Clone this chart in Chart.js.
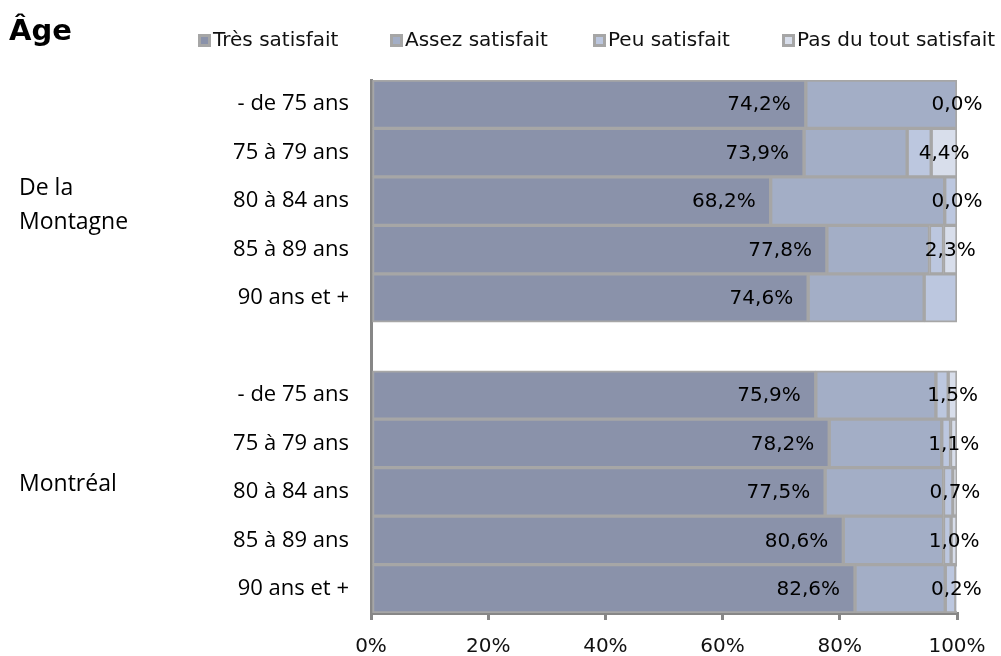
<!DOCTYPE html>
<html>
<head>
<meta charset="utf-8">
<script src="https://cdn.jsdelivr.net/npm/chart.js@4/dist/chart.umd.min.js"></script>
<style>
  html, body { margin: 0; padding: 0; background: #ffffff; }
  #wrap { width: 1001px; height: 656px; }
</style>
</head>
<body>
<div id="wrap"><canvas id="c" width="1001" height="656"></canvas></div>
<script>
// ---- Data ----
const categories = ['- de 75 ans', '75 à 79 ans', '80 à 84 ans', '85 à 89 ans', '90 ans et +', '',
                    '- de 75 ans', '75 à 79 ans', '80 à 84 ans', '85 à 89 ans', '90 ans et +'];
const seriesNames = ['Très satisfait', 'Assez satisfait', 'Peu satisfait', 'Pas du tout satisfait'];
const tres  = [74.2, 73.9, 68.2, 77.8, 74.6, null, 75.9, 78.2, 77.5, 80.6, 82.6];
const assez = [25.8, 17.6, 29.7, 17.5, 19.8, null, 20.5, 19.2, 20.2, 17.1, 15.4];
const peu   = [0.0, 4.1, 2.1, 2.4, 5.6, null, 2.1, 1.5, 1.6, 1.3, 1.8];
const pas   = [0.0, 4.4, 0.0, 2.3, null, null, 1.5, 1.1, 0.7, 1.0, 0.2];
const groupNames = [['De la', 'Montagne'], ['Montréal']];
const groupCenterIndex = [2, 8];
const xTickValues = [0, 20, 40, 60, 80, 100];
const chartTitle = 'Âge';

// ---- Styles ----
const colors = ['#8A92AA', '#A3AEC6', '#BCC7DF', '#D8DEEB'];
const borderGray = '#A6A6A6';
const axisGray = '#878787';

const fmt = v => v.toFixed(1).replace('.', ',') + '%';

const overlay = {
  id: 'overlay',
  afterDatasetsDraw(chart) {
    const ctx = chart.ctx;
    const y = chart.scales.y;
    ctx.save();
    // Data labels
    ctx.fillStyle = '#000000';
    ctx.font = '20px "DejaVu Sans"';
    ctx.textBaseline = 'middle';
    const m0 = chart.getDatasetMeta(0);
    m0.data.forEach((el, i) => {
      const v = tres[i];
      if (v === null || v === undefined) return;
      ctx.textAlign = 'right';
      ctx.fillText(fmt(v), el.x - 15, el.y + 1);
    });
    const m3 = chart.getDatasetMeta(3);
    m3.data.forEach((el, i) => {
      const v = pas[i];
      if (v === null || v === undefined) return;
      ctx.textAlign = 'center';
      ctx.fillText(fmt(v), (el.x + el.base) / 2, el.y + 1);
    });
    // Group labels
    ctx.font = '23px "Open Sans"';
    ctx.textAlign = 'left';
    ctx.fillStyle = '#000000';
    groupNames.forEach((lines, g) => {
      const cy = y.getPixelForValue(groupCenterIndex[g]);
      const lh = 34;
      const offset = lines.length === 1 ? -7 : 4;
      lines.forEach((t, k) => {
        const yy = cy + offset + (k - (lines.length - 1) / 2) * lh;
        ctx.fillText(t, 19, yy);
      });
    });
    // Title
    ctx.font = 'bold 29px "DejaVu Sans"';
    ctx.fillStyle = '#000000';
    ctx.textAlign = 'left';
    ctx.fillText(chartTitle, 9, 32);
    // Legend
    const boxX = [198, 390, 593, 782];
    ctx.font = '20px "DejaVu Sans"';
    seriesNames.forEach((name, i) => {
      const bx = boxX[i];
      ctx.fillStyle = borderGray;
      ctx.fillRect(bx, 34, 13, 13);
      ctx.fillStyle = chart.data.datasets[i].backgroundColor;
      ctx.fillRect(bx + 3, 37, 7, 7);
      ctx.fillStyle = '#111111';
      ctx.textAlign = 'left';
      ctx.fillText(name, bx + 15, 41);
    });
    ctx.restore();
  }
};

const datasets = [tres, assez, peu, pas].map((arr, i) => ({
  label: seriesNames[i],
  data: arr,
  backgroundColor: colors[i],
  borderColor: borderGray,
  borderWidth: 2,
  borderSkipped: false,
  barPercentage: 1.0,
  categoryPercentage: 1.0
}));

new Chart(document.getElementById('c'), {
  type: 'bar',
  data: { labels: categories, datasets },
  options: {
    indexAxis: 'y',
    responsive: false,
    animation: false,
    devicePixelRatio: 1,
    layout: { padding: { top: 80, right: 44, left: 0, bottom: 0 } },
    plugins: { legend: { display: false }, tooltip: { enabled: false }, title: { display: false } },
    scales: {
      x: {
        stacked: true,
        min: 0, max: 100,
        z: 1,
        afterFit(s) { s.height = 43; },
        afterBuildTicks(s) { s.ticks = xTickValues.map(v => ({ value: v })); },
        ticks: {
          callback: v => v + '%',
          color: '#111111',
          font: { family: 'DejaVu Sans', size: 20 },
          padding: 15,
          maxRotation: 0
        },
        grid: { drawOnChartArea: false, drawTicks: true, tickLength: 7, color: axisGray, lineWidth: 3 },
        border: { display: true, color: axisGray, width: 3 }
      },
      y: {
        stacked: true,
        z: 1,
        afterFit(s) { s.width = 371; },
        ticks: {
          color: '#000000',
          font: { family: 'Open Sans', size: 22 },
          padding: 22,
          autoSkip: false
        },
        grid: { display: false, drawTicks: false },
        border: { display: true, color: axisGray, width: 3 }
      }
    }
  },
  plugins: [overlay]
});
</script>
</body>
</html>
